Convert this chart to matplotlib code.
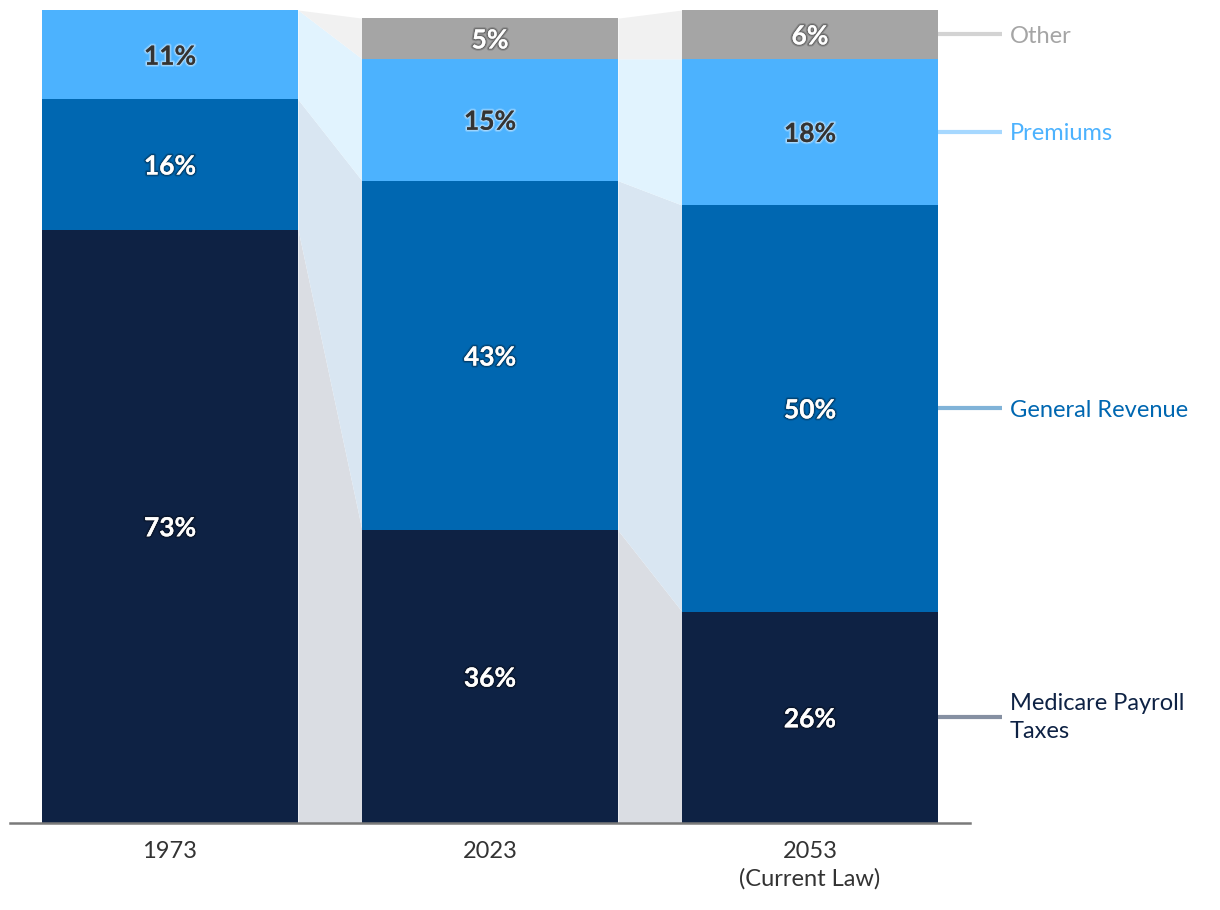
import matplotlib
matplotlib.use("Agg")
import matplotlib.pyplot as plt
import matplotlib.patheffects as pe
import numpy as np

plt.rcParams['font.family'] = ['Lato', 'DejaVu Sans']

categories = ["1973", "2023", "2053\n(Current Law)"]
series_names = ["Medicare Payroll\nTaxes", "General Revenue", "Premiums", "Other"]
payroll = [73, 36, 26]
general_revenue = [16, 43, 50]
premiums = [11, 15, 18]
other = [0, 5, 6]

bar_colors = ["#0e2244", "#0067b1", "#4cb2fe", "#a5a5a5"]
conn_colors = ["#dadde3", "#d9e6f2", "#e1f3fe", "#f1f1f1"]
line_colors = ["#8690a2", "#80b3d8", "#a6d8ff", "#d3d3d3"]
label_colors = ["#0e2244", "#0067b1", "#4cb2fe", "#a5a5a5"]
text_colors = ["white", "white", "#333333", "white"]

W, H = 1220, 910
fig = plt.figure(figsize=(W / 100, H / 100), dpi=100)
ax = fig.add_axes([10 / W, (H - 823) / H, 960 / W, 813 / H])

data = np.array([payroll, general_revenue, premiums, other], dtype=float)
x = np.arange(len(categories))
width = 0.8
bottoms = np.vstack([np.zeros(len(categories)), np.cumsum(data, axis=0)[:-1]])
tops = bottoms + data

# connectors
for i in range(len(categories) - 1):
    for s in range(data.shape[0]):
        xs = [x[i] + width / 2, x[i + 1] - width / 2]
        ax.fill_between(xs, [bottoms[s, i], bottoms[s, i + 1]],
                        [tops[s, i], tops[s, i + 1]],
                        color=conn_colors[s], linewidth=0, zorder=1)

# bars
for s in range(data.shape[0]):
    ax.bar(x, data[s], width, bottom=bottoms[s], color=bar_colors[s],
           linewidth=0, zorder=2)
    for i in range(len(categories)):
        if data[s, i] <= 0:
            continue
        if text_colors[s] == "white":
            eff = [pe.withStroke(linewidth=3, foreground=(0, 0, 0, 0.18)),
                   pe.withStroke(linewidth=1.5, foreground=(0, 0, 0, 0.25))]
        else:
            eff = [pe.withStroke(linewidth=3, foreground=(1, 1, 1, 0.25)),
                   pe.withStroke(linewidth=1.5, foreground=(1, 1, 1, 0.35))]
        ax.text(x[i], bottoms[s, i] + data[s, i] / 2, f"{int(data[s, i])}%",
                ha="center", va="center_baseline", fontsize=19, fontweight="bold",
                color=text_colors[s], zorder=3, path_effects=eff)

# right-side labels
last = len(categories) - 1
for s in range(data.shape[0]):
    yc = bottoms[s, last] + data[s, last] / 2
    ax.plot([x[last] + width / 2, x[last] + width / 2 + 0.2], [yc, yc],
            color=line_colors[s], linewidth=3, solid_capstyle="butt",
            clip_on=False, zorder=2)
    multiline = "\n" in series_names[s]
    ax.text(x[last] + width / 2 + 0.225, yc, series_names[s],
            ha="left", va="center" if multiline else "center_baseline",
            fontsize=17, color=label_colors[s],
            linespacing=1.4, clip_on=False)

ax.set_xlim(-0.5, 2.5)
ax.set_ylim(0, 100)
for sp in ["top", "right", "left"]:
    ax.spines[sp].set_visible(False)
ax.spines["bottom"].set_color("#7a7a7a")
ax.spines["bottom"].set_linewidth(1.8)
ax.set_yticks([])
ax.set_xticks(x)
ax.set_xticklabels(categories, fontsize=17, color="#333333", linespacing=1.35)
ax.tick_params(axis="x", length=0, pad=13)

fig.savefig("out.png", dpi=100)
